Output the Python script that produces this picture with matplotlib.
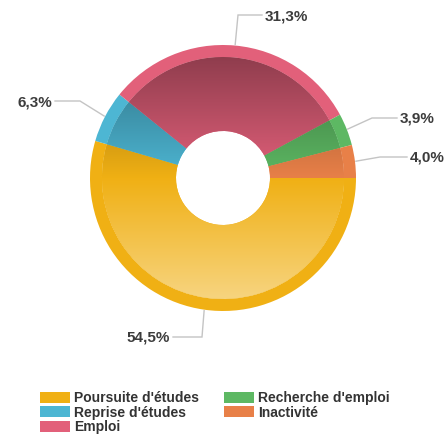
import numpy as np
import matplotlib
matplotlib.use('Agg')
import matplotlib.pyplot as plt
from matplotlib.patches import Patch
from matplotlib.colors import to_rgb

categories = ["Poursuite d'études", "Reprise d'études", "Emploi", "Recherche d'emploi", "Inactivité"]
values = [54.5, 6.3, 31.3, 3.9, 4.0]
labels = ["54,5%", "6,3%", "31,3%", "3,9%", "4,0%"]
colors = ['#F0B014', '#4DB6D3', '#E2607A', '#5DB863', '#E88048']

W, H = 446, 443
fig = plt.figure(figsize=(W / 100, H / 100), dpi=100)
ax = fig.add_axes([0, 0, 1, 1])

cx, cy = 223, H - 178
R_out, R_ring, R_in = 133, 121, 47

ring, _ = ax.pie(values, colors=colors, startangle=0, counterclock=False,
                 radius=R_out, center=(cx, cy),
                 wedgeprops=dict(width=R_out - R_ring, linewidth=0))
inner, _ = ax.pie(values, colors=colors, startangle=0, counterclock=False,
                  radius=R_ring, center=(cx, cy),
                  wedgeprops=dict(width=R_ring - R_in, linewidth=0))

# vertical gradient inside the inner part of each slice
n = 256
t = np.linspace(0, 1, n)[:, None]
for w, c in zip(inner, colors):
    c = np.array(to_rgb(c))
    dark = 0.6 + 0.4 * np.clip(t / 0.5, 0, 1)
    light = np.clip((t - 0.5) / 0.5, 0, 1) * 0.5
    rgb = c[None, :] * dark
    rgb = rgb + (1 - rgb) * light
    img = np.repeat(rgb[:, None, :], 2, axis=1)
    im = ax.imshow(img, extent=(cx - R_out, cx + R_out, cy - R_out, cy + R_out),
                   origin='upper', aspect='auto', zorder=w.get_zorder() + 0.1,
                   interpolation='bilinear')
    im.set_clip_path(w)

# connectors and labels (layout in pixel coordinates, y downward)
elbows = [(202, 337), (80, 101), (238, 15), (372, 118), (380, 157)]
label_pos = [(170, 337, 'right'), (52, 102, 'right'), (265, 16, 'left'),
             (400, 118, 'left'), (410, 157, 'left')]
cum = np.cumsum(values)
total = cum[-1]
for i, v in enumerate(values):
    mid = -np.deg2rad((cum[i] - v / 2) / total * 360)
    sx = cx + (R_out + 1) * np.cos(mid)
    sy = cy + (R_out + 1) * np.sin(mid)
    ex, ey = elbows[i][0], H - elbows[i][1]
    lx, ly, ha = label_pos[i]
    endx = lx + 3 if ha == 'right' else lx - 3
    ax.plot([sx, ex, endx], [sy, ey, ey], color='#c4c4c4', lw=1.0, zorder=1,
            solid_joinstyle='miter')
    ax.text(lx, H - ly, labels[i], ha=ha, va='center', fontsize=11,
            fontweight='bold', family='Liberation Sans', color='#3c3c3c')

handles = [Patch(facecolor=c, edgecolor='none') for c in colors]
ax.legend(handles, categories, ncol=2, loc='upper left',
          bbox_to_anchor=(40 / W, 1 - 391 / H), frameon=False,
          prop=dict(family='Liberation Sans', weight='bold', size=10),
          labelcolor='#333333', handlelength=2.15, handleheight=0.85,
          handletextpad=0.3, columnspacing=1.8, labelspacing=0.05,
          borderpad=0, borderaxespad=0)

ax.set_xlim(0, W)
ax.set_ylim(0, H)
ax.set_aspect('auto')
ax.axis('off')
fig.savefig('out.png', dpi=100, facecolor='white')
